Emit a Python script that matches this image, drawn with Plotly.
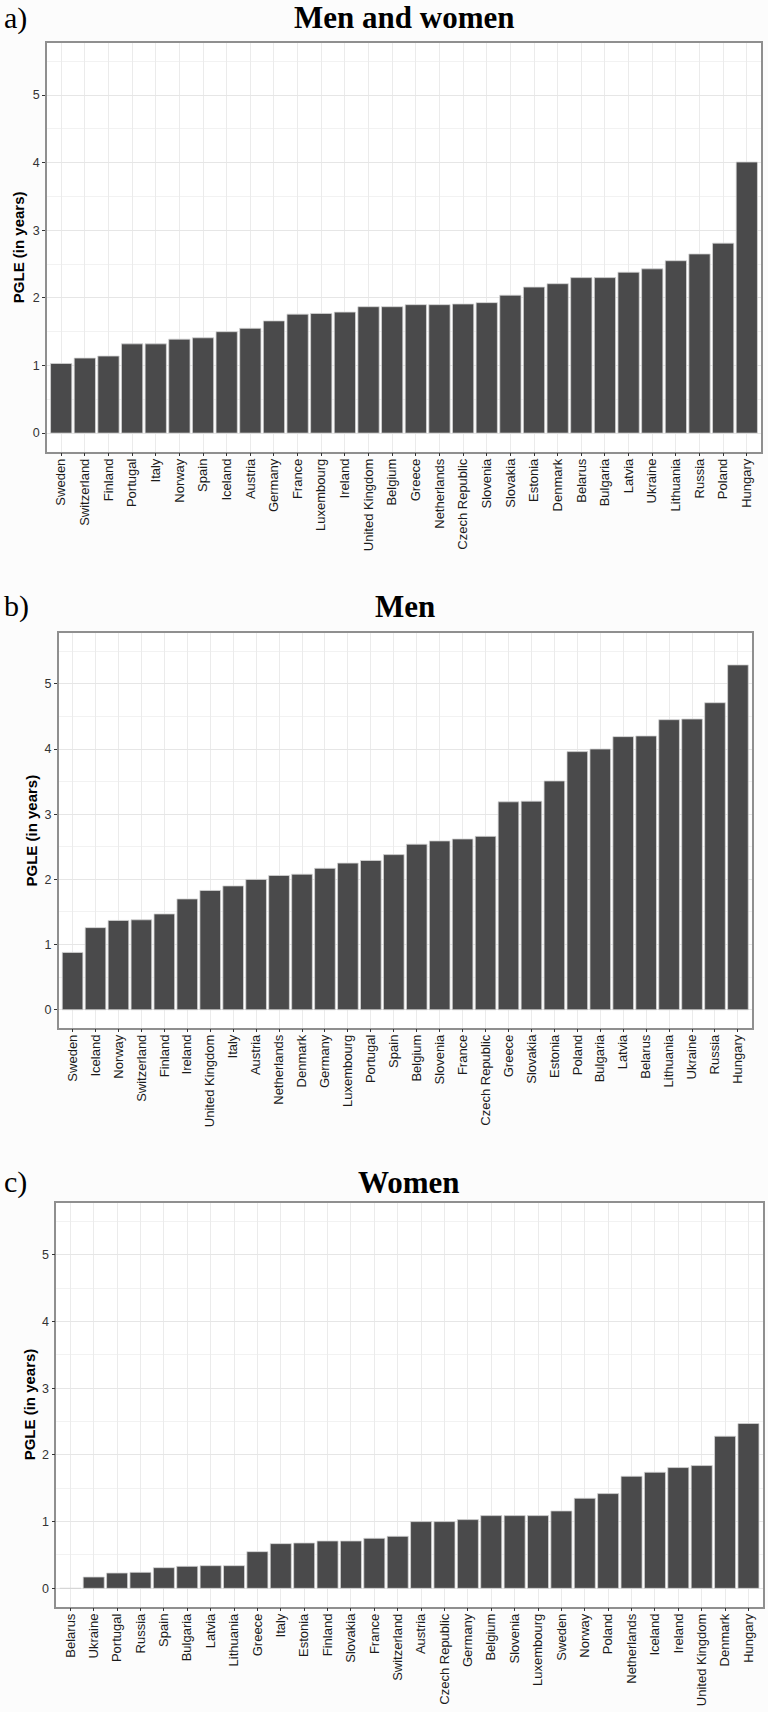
import plotly.graph_objects as go

# ---------------- data ----------------
countries_all = ["Sweden", "Switzerland", "Finland", "Portugal", "Italy", "Norway", "Spain",
                 "Iceland", "Austria", "Germany", "France", "Luxembourg", "Ireland",
                 "United Kingdom", "Belgium", "Greece", "Netherlands", "Czech Republic",
                 "Slovenia", "Slovakia", "Estonia", "Denmark", "Belarus", "Bulgaria",
                 "Latvia", "Ukraine", "Lithuania", "Russia", "Poland", "Hungary"]
pgle_all = [1.03, 1.11, 1.14, 1.32, 1.32, 1.39, 1.41, 1.50, 1.55, 1.66, 1.76, 1.77, 1.79,
            1.87, 1.87, 1.90, 1.90, 1.91, 1.93, 2.04, 2.16, 2.21, 2.30, 2.30, 2.38, 2.43,
            2.55, 2.65, 2.81, 4.01]

countries_men = ["Sweden", "Iceland", "Norway", "Switzerland", "Finland", "Ireland",
                 "United Kingdom", "Italy", "Austria", "Netherlands", "Denmark", "Germany",
                 "Luxembourg", "Portugal", "Spain", "Belgium", "Slovenia", "France",
                 "Czech Republic", "Greece", "Slovakia", "Estonia", "Poland", "Bulgaria",
                 "Latvia", "Belarus", "Lithuania", "Ukraine", "Russia", "Hungary"]
pgle_men = [0.88, 1.26, 1.37, 1.38, 1.47, 1.70, 1.83, 1.90, 2.00, 2.06, 2.08, 2.17, 2.25,
            2.29, 2.38, 2.54, 2.59, 2.62, 2.66, 3.19, 3.20, 3.51, 3.96, 4.00, 4.19, 4.20,
            4.45, 4.46, 4.71, 5.29]

countries_women = ["Belarus", "Ukraine", "Portugal", "Russia", "Spain", "Bulgaria", "Latvia",
                   "Lithuania", "Greece", "Italy", "Estonia", "Finland", "Slovakia", "France",
                   "Switzerland", "Austria", "Czech Republic", "Germany", "Belgium",
                   "Slovenia", "Luxembourg", "Sweden", "Norway", "Poland", "Netherlands",
                   "Iceland", "Ireland", "United Kingdom", "Denmark", "Hungary"]
pgle_women = [0.0, 0.17, 0.23, 0.24, 0.31, 0.33, 0.34, 0.34, 0.55, 0.67, 0.68, 0.71, 0.71,
              0.75, 0.78, 1.00, 1.00, 1.03, 1.09, 1.09, 1.09, 1.16, 1.35, 1.42, 1.68, 1.74,
              1.81, 1.84, 2.28, 2.47]

panel_titles = ["Men and women", "Men", "Women"]
panel_letters = ["a)", "b)", "c)"]
y_tickvals = [0, 1, 2, 3, 4, 5]
y_title = "PGLE (in years)"

# ---------------- layout geometry (pixels) ----------------
W, H = 768, 1712
# (left, right, top, bottom, title_y, ytitle_x)
boxes = [
    (47, 761, 42.7, 451.7, 18, 18),
    (58.8, 751.7, 633.3, 1027.7, 606, 31),
    (56.3, 762.5, 1203, 1606.7, 1182, 29.5),
]

data_sets = [(countries_all, pgle_all), (countries_men, pgle_men),
             (countries_women, pgle_women)]

fig = go.Figure()
annotations = []
BAR = "#4a4a4b"
for i, ((cats, vals), (l, r, t, b, ty, ytx)) in enumerate(zip(data_sets, boxes)):
    n = i + 1
    xa = "x" if n == 1 else f"x{n}"
    ya = "y" if n == 1 else f"y{n}"
    fig.add_trace(go.Bar(
        x=cats, y=vals, xaxis=xa, yaxis=ya, width=0.9,
        marker=dict(color=BAR, line=dict(color="#d4d4d4", width=0.8)),
        showlegend=False, hoverinfo="x+y"))
    xdom = [l / W, r / W]
    ydom = [1 - b / H, 1 - t / H]
    xkey = "xaxis" if n == 1 else f"xaxis{n}"
    ykey = "yaxis" if n == 1 else f"yaxis{n}"
    fig.update_layout(**{
        xkey: dict(
            domain=xdom, anchor=ya, type="category", range=[-0.6, len(cats) - 0.4],
            tickangle=-90, ticks="outside", ticklen=3, tickwidth=1.2, tickcolor="#333333",
            ticklabelstandoff=-3,
            showgrid=True, gridcolor="#ebebeb", gridwidth=1,
            showline=True, mirror=True, linecolor="#8f8f8f", linewidth=1.5,
            tickfont=dict(family="Liberation Sans, Arial, sans-serif", size=13, color="#1a1a1a"),
            fixedrange=True, zeroline=False, automargin=False),
        ykey: dict(
            domain=ydom, anchor=xa, range=[-0.275, 5.775], tickvals=y_tickvals,
            ticks="outside", ticklen=3, tickwidth=1.2, tickcolor="#333333",
            showgrid=True, gridcolor="#e6e6e6", gridwidth=1,
            minor=dict(dtick=0.5, tick0=0, showgrid=True, gridcolor="#f2f2f2", gridwidth=1, ticks=""),
            showline=True, mirror=True, linecolor="#8f8f8f", linewidth=1.5,
            tickfont=dict(family="Liberation Sans, Arial, sans-serif", size=12.5, color="#333333"),
            zeroline=False, fixedrange=True, automargin=False),
    })
    cx = (l + r) / 2 / W
    annotations.append(dict(
        text="<b>" + panel_titles[i] + "</b>", x=cx, y=1 - ty / H, xref="paper", yref="paper",
        xanchor="center", yanchor="middle", showarrow=False,
        font=dict(family="Liberation Serif, Times New Roman, serif", size=31, color="#000000")))
    annotations.append(dict(
        text=panel_letters[i], x=2 / W, y=1 - ty / H, xref="paper", yref="paper",
        xanchor="left", yanchor="middle", showarrow=False,
        font=dict(family="Liberation Serif, Times New Roman, serif", size=30, color="#000000")))
    annotations.append(dict(
        text="<b>" + y_title + "</b>", x=ytx / W, y=1 - (t + b) / 2 / H, xref="paper",
        yref="paper", xanchor="center", yanchor="middle", textangle=-90, showarrow=False,
        font=dict(family="Liberation Sans, Arial, sans-serif", size=15, color="#000000")))

fig.update_layout(
    width=W, height=H, margin=dict(l=0, r=0, t=0, b=0),
    paper_bgcolor="#fcfcfc", plot_bgcolor="#ffffff",
    bargap=0.1, annotations=annotations,
)

fig.write_html("out.html", config={"displayModeBar": False},
               post_script="document.body.style.margin='0';document.body.style.padding='0';")
